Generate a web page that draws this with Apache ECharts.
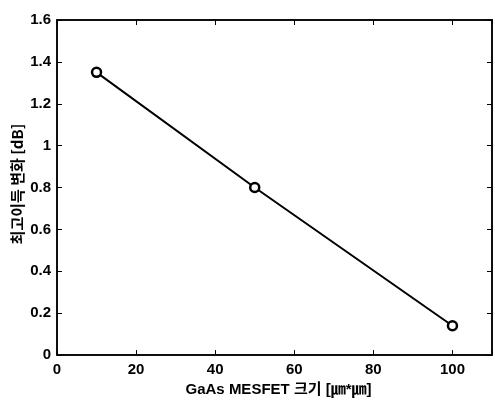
<!DOCTYPE html>
<html>
    <head>
        <meta charset="utf-8">
        <title>GaAs MESFET</title>
        <script src="https://cdn.jsdelivr.net/npm/echarts@6/dist/echarts.min.js"></script>
    </head>
    <body style="margin:0;background:#fff;">
        <div id="main" style="width: 495px;height:402px;"></div>
        <script type="text/javascript">
            // data
            var sizes = [10, 50, 100];
            var gainChange = [1.35, 0.8, 0.14];
            var xTicks = [0, 20, 40, 60, 80, 100];
            var yTicks = [0, 0.2, 0.4, 0.6, 0.8, 1, 1.2, 1.4, 1.6];
            var xTitle = 'GaAs MESFET 크기 [㎛*㎛]';
            var yTitle = '최고이득 변화 [dB]';

            var myChart = echarts.init(document.getElementById('main'));

            var points = [];
            for (var i = 0; i < sizes.length; i++) {
                points.push([sizes[i], gainChange[i]]);
            }

            var font = 'Liberation Sans, Arial, sans-serif';
            function ticks() {
                return { show: true, inside: true, length: 5, lineStyle: { color: '#000', width: 1 } };
            }
            function line() {
                return { show: true, onZero: false, lineStyle: { color: '#000', width: 1.5 } };
            }

            var option = {
                backgroundColor: '#fff',
                animation: false,
                grid: {
                    left: 57, right: 2, top: 20, bottom: 41, containLabel: false,
                    show: true, borderColor: '#000', borderWidth: 1.5, backgroundColor: 'transparent'
                },
                // y title sits a little above the middle of the axis in the original
                graphic: [{
                    type: 'text',
                    x: 17, y: 184,
                    rotation: Math.PI / 2,
                    style: {
                        text: yTitle,
                        fill: '#000',
                        font: 'bold 15px "Noto Sans CJK KR", "Liberation Sans", sans-serif',
                        align: 'center',
                        verticalAlign: 'middle'
                    }
                }],
                xAxis: [{
                    type: 'value', min: 0, max: 110, interval: 20,
                    name: xTitle,
                    nameLocation: 'middle', nameGap: 22,
                    nameTextStyle: { color: '#000', fontSize: 15, fontWeight: 'bold', fontFamily: 'Liberation Sans, Noto Sans CJK KR, sans-serif', padding: [0, 0, 0, 8] },
                    axisLine: line(),
                    axisTick: ticks(),
                    splitLine: { show: false },
                    axisLabel: {
                        color: '#000', fontSize: 15, fontWeight: 'bold', fontFamily: font, margin: 7,
                        formatter: function (v) { return xTicks.indexOf(v) >= 0 ? String(v) : ''; }
                    }
                }, {
                    type: 'value', min: 0, max: 110, interval: 20, position: 'top',
                    axisLine: line(),
                    axisTick: ticks(), axisLabel: { show: false }, splitLine: { show: false }
                }],
                yAxis: [{
                    type: 'value', min: 0, max: 1.6, interval: 0.2,
                    axisLine: line(),
                    axisTick: ticks(),
                    splitLine: { show: false },
                    axisLabel: {
                        color: '#000', fontSize: 15, fontWeight: 'bold', fontFamily: font, margin: 6,
                        formatter: function (v) {
                            var r = Math.round(v * 10) / 10;
                            return yTicks.indexOf(r) >= 0 ? String(r) : '';
                        }
                    }
                }, {
                    type: 'value', min: 0, max: 1.6, interval: 0.2, position: 'right',
                    axisLine: line(),
                    axisTick: ticks(), axisLabel: { show: false }, splitLine: { show: false }
                }],
                series: [{
                    type: 'line',
                    xAxisIndex: 0,
                    yAxisIndex: 0,
                    data: points,
                    symbol: 'circle',
                    symbolSize: 9,
                    itemStyle: { color: '#fff', borderColor: '#000', borderWidth: 2.5 },
                    lineStyle: { color: '#000', width: 2 }
                }]
            };

            myChart.setOption(option);
        </script>
    </body>
</html>
